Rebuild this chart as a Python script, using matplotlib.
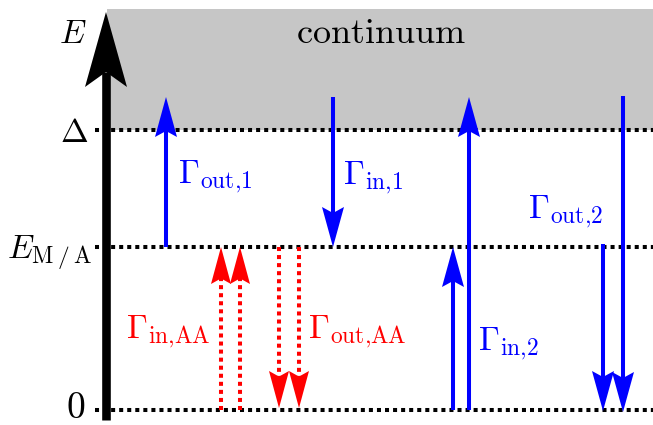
import matplotlib
matplotlib.use("Agg")
import matplotlib.pyplot as plt
from matplotlib.patches import Polygon, Rectangle

plt.rcParams["mathtext.fontset"] = "cm"

# energy levels (data units, 0 at the ground level)
level_labels = [r"$0$", r"$E_{\mathrm{M}\:/\:\mathrm{A}}$", r"$\Delta$"]
level_values = [0, 163, 280]
continuum_top = 401
axis_top = 398

# blue transitions: x position, start, end
blue_x = [166, 333, 453, 469, 603, 623]
blue_start = [163, 313, 0, 0, 166, 314]
blue_end = [313, 163, 163, 313, -1, -2]

# red (Auger-like) transitions
red_x = [221, 240, 279, 299]
red_start = [0, 0, 163, 163]
red_end = [163, 163, 2, 2]

# labels: text, x, baseline y, alignment, colour
rate_labels = [
    (r"$\Gamma_{\mathrm{out{,}1}}$", 178, 227, "left", "blue"),
    (r"$\Gamma_{\mathrm{in{,}1}}$", 343, 226, "left", "blue"),
    (r"$\Gamma_{\mathrm{out{,}2}}$", 528, 192, "left", "blue"),
    (r"$\Gamma_{\mathrm{in{,}2}}$", 478, 60, "left", "blue"),
    (r"$\Gamma_{\mathrm{in{,}AA}}$", 210, 72, "right", "red"),
    (r"$\Gamma_{\mathrm{out{,}AA}}$", 308, 72, "left", "red"),
]

fig = plt.figure(figsize=(6.53, 4.25), dpi=100)
ax = fig.add_axes([0, 0, 1, 1])
ax.set_xlim(0, 653)
ax.set_ylim(-15, 410)
ax.axis("off")


def arrow(x, y0, y1, color, lw, hl, hw, notch=0.15, ls="-", z=3):
    d = 1 if y1 > y0 else -1
    base = y1 - d * hl
    back = y1 - d * hl * (1 - notch)
    ax.plot([x, x], [y0, back], color=color, lw=lw, ls=ls, zorder=z,
            solid_capstyle="butt", dash_capstyle="butt")
    head = Polygon([(x, y1), (x - hw / 2, base), (x, back), (x + hw / 2, base)],
                   closed=True, facecolor=color, edgecolor="none", zorder=z)
    ax.add_patch(head)


# continuum
ax.add_patch(Rectangle((107, level_values[2]), 653 - 107,
                       continuum_top - level_values[2],
                       facecolor="#c6c6c6", edgecolor="none", zorder=0))
ax.text(381, 367, r"$\mathrm{continuum}$", fontsize=26, ha="center",
        va="baseline")

# dotted levels
for lab, val in zip(level_labels, level_values):
    ax.plot([95, 653], [val, val], color="black", lw=2.9, ls=(0, (1, 1)),
            zorder=1)
ax.text(75.5, -8, level_labels[0], fontsize=27, ha="center", va="baseline")
ax.text(92, 151, level_labels[1], fontsize=24, ha="right", va="baseline")
ax.text(74, 268, level_labels[2], fontsize=24, ha="center", va="baseline")

# energy axis
arrow(106, -10, axis_top, "black", 6.2, 75, 42, notch=0.2, z=4)
ax.text(73, 367, r"$E$", fontsize=24, ha="center", va="baseline")

for x, y0, y1 in zip(blue_x, blue_start, blue_end):
    arrow(x, y0, y1, "blue", 2.9, 40, 22)

for x, y0, y1 in zip(red_x, red_start, red_end):
    arrow(x, y0, y1, "red", 2.9, 37, 20, ls=(0, (1, 1)))

for txt, x, y, ha, col in rate_labels:
    ax.text(x, y, txt, fontsize=24, color=col, ha=ha, va="baseline")

fig.savefig("out.png", dpi=100)
